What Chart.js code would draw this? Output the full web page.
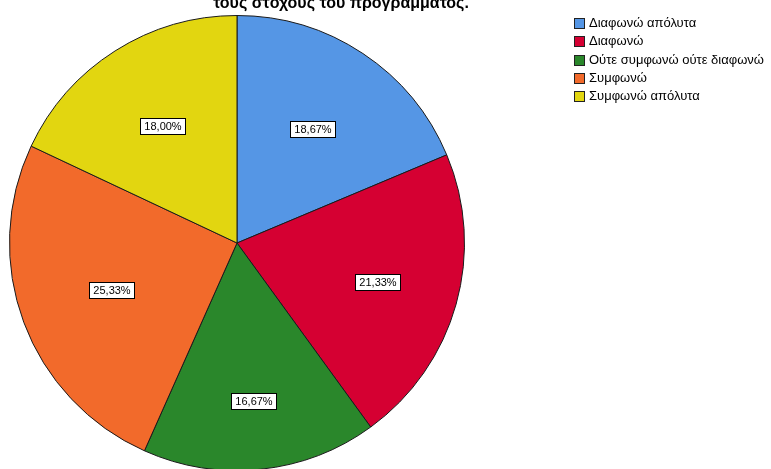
<!DOCTYPE html>
<html lang="el">
<head>
<meta charset="utf-8">
<title>Pie chart</title>
<script src="https://cdn.jsdelivr.net/npm/chart.js@4/dist/chart.umd.min.js"></script>
<style>
  html, body { margin: 0; padding: 0; background: #ffffff; }
  #wrap { position: relative; width: 771px; height: 469px; overflow: hidden; background: #ffffff; }
  #pie { position: absolute; left: 0; top: 0; }
  #title {
    position: absolute; left: 141px; width: 400px; top: -5px;
    text-align: center; font: bold 16px "Liberation Sans", Arial, sans-serif;
    line-height: 16px; color: #000; white-space: nowrap;
  }
  #legend { position: absolute; left: 574px; top: 18px; font: 13px "Liberation Sans", Arial, sans-serif; color: #000; }
  #legend .item { position: relative; height: 18.3px; white-space: nowrap; }
  #legend .sw { position: absolute; left: 0; top: 0; width: 9px; height: 9px; border: 1px solid #222; }
  #legend .tx { position: absolute; left: 15px; top: -2px; line-height: 14px; }
</style>
</head>
<body>
<div id="wrap">
  <canvas id="pie" width="771" height="480"></canvas>
  <div id="title">τους στόχους του προγράμματος.</div>
  <div id="legend"></div>
</div>
<script>
// Response categories, in the order the slices run clockwise from 12 o'clock
const categories = [
  'Διαφωνώ απόλυτα',
  'Διαφωνώ',
  'Ούτε συμφωνώ ούτε διαφωνώ',
  'Συμφωνώ',
  'Συμφωνώ απόλυτα'
];

// Share of respondents per category (%)
const percentages = [18.67, 21.33, 16.67, 25.33, 18.00];

// Slice colours
const sliceColors = ['#5596E5', '#D50032', '#2A872B', '#F26A2B', '#E2D610'];

// How far out (fraction of the radius) each percentage tag sits
const labelRadius = [0.60, 0.64, 0.70, 0.59, 0.61];

const fmtPct = v => v.toFixed(2).replace('.', ',') + '%';

// Boxed percentage tags on top of each slice
const pctTags = {
  id: 'pctTags',
  afterDatasetsDraw(chart) {
    const ctx = chart.ctx;
    const meta = chart.getDatasetMeta(0);
    const values = chart.data.datasets[0].data;
    ctx.save();
    ctx.font = '11px "Liberation Sans", Arial, sans-serif';
    ctx.textAlign = 'center';
    ctx.textBaseline = 'middle';
    meta.data.forEach((arc, i) => {
      const p = arc.getProps(['x', 'y', 'startAngle', 'endAngle', 'outerRadius'], true);
      const mid = (p.startAngle + p.endAngle) / 2;
      const r = p.outerRadius * labelRadius[i];
      const cx = p.x + Math.cos(mid) * r;
      const cy = p.y + Math.sin(mid) * r;
      const text = fmtPct(values[i]);
      const w = Math.round(ctx.measureText(text).width) + 8;
      const h = 16;
      const bx = Math.round(cx - w / 2) + 0.5;
      const by = Math.round(cy - h / 2) + 0.5;
      ctx.fillStyle = '#ffffff';
      ctx.fillRect(bx, by, w, h);
      ctx.strokeStyle = '#000000';
      ctx.lineWidth = 1;
      ctx.strokeRect(bx, by, w, h);
      ctx.fillStyle = '#000000';
      ctx.fillText(text, bx + w / 2, by + h / 2 + 0.5);
    });
    ctx.restore();
  }
};

const chart = new Chart(document.getElementById('pie'), {
  type: 'pie',
  data: {
    labels: categories,
    datasets: [{
      data: percentages,
      backgroundColor: sliceColors,
      borderColor: '#1a1a1a',
      borderWidth: 1
    }]
  },
  options: {
    responsive: false,
    animation: false,
    devicePixelRatio: 1,
    events: [],
    layout: { padding: { left: 0, right: 297, top: 15, bottom: 9 } },
    plugins: {
      legend: { display: false },
      tooltip: { enabled: false },
      title: { display: false }
    }
  },
  plugins: [pctTags]
});

// Legend built from the chart's own label items
const legendEl = document.getElementById('legend');
chart.options.plugins.legend.labels.generateLabels(chart).forEach(item => {
  const row = document.createElement('div');
  row.className = 'item';
  const sw = document.createElement('span');
  sw.className = 'sw';
  sw.style.background = item.fillStyle;
  const tx = document.createElement('span');
  tx.className = 'tx';
  tx.textContent = item.text;
  row.appendChild(sw);
  row.appendChild(tx);
  legendEl.appendChild(row);
});
</script>
</body>
</html>
